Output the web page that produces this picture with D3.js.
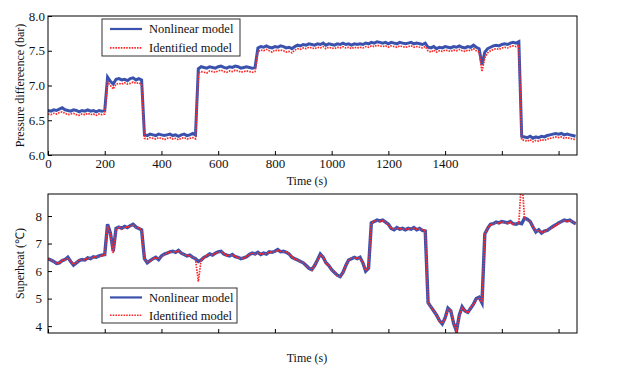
<!DOCTYPE html>
<html>
<head>
<meta charset="utf-8">
<script src="https://cdn.jsdelivr.net/npm/d3@7/dist/d3.min.js"></script>
<style>
body{margin:0;background:#fff;}
svg{display:block;font-family:"Liberation Serif","Times New Roman",serif;}
</style>
</head>
<body>
<svg id="chart" width="619" height="375"></svg>
<script>
// ---- data (sampled every 10 s) ----
const time = d3.range(0, 1870, 10);
const xTicks = [0,200,400,600,800,1000,1200,1400,1600,1800];
const xTickLabels = ["0","200","400","600","800","1000","1200","1400","",""];
const pTicks = [6.0,6.5,7.0,7.5,8.0];
const pTickLabels = ["6.0","6.5","7.0","7.5","8.0"];
const sTicks = [4,5,6,7,8];
const sTickLabels = ["4","5","6","7","8"];
const seriesNames = ["Nonlinear model","Identified model"];

const pressureNonlinear = [
6.64,6.63,6.65,6.64,6.66,6.68,6.65,6.64,6.63,6.65,6.64,6.62,6.64,6.63,6.65,6.63,6.64,6.62,6.64,6.63,6.64,
7.12,7.06,7.02,7.09,7.10,7.08,7.09,7.07,7.10,7.11,7.08,7.10,7.08,
6.29,6.28,6.30,6.29,6.28,6.30,6.29,6.28,6.29,6.30,6.28,6.29,6.27,6.29,6.30,6.28,6.29,6.31,6.29,
7.24,7.27,7.26,7.25,7.27,7.26,7.25,7.27,7.28,7.26,7.25,7.27,7.26,7.28,7.27,7.25,7.26,7.27,7.26,7.25,7.26,
7.54,7.56,7.55,7.57,7.55,7.54,7.56,7.55,7.57,7.56,7.54,7.55,7.53,7.56,7.58,7.57,
7.59,7.58,7.60,7.59,7.58,7.60,7.59,7.61,7.58,7.60,7.59,7.58,7.60,7.59,7.61,7.59,7.60,7.58,7.60,7.59,
7.60,7.59,7.61,7.60,7.62,7.61,7.63,7.62,7.61,7.62,7.60,7.62,7.61,7.60,7.62,7.61,7.60,7.61,7.62,7.60,7.61,7.60,7.59,7.61,
7.55,7.54,7.56,7.53,7.55,7.54,7.56,7.55,7.54,7.56,7.55,7.57,7.55,7.54,7.56,7.55,
7.58,7.55,7.53,7.30,7.48,7.53,7.55,7.57,7.58,7.57,7.59,7.60,7.59,7.61,7.62,7.61,7.63,
6.27,6.26,6.25,6.27,6.24,6.26,6.25,6.27,6.26,6.28,6.29,6.30,6.31,6.30,6.31,6.29,6.30,6.29,6.28,6.27
];
const pressureIdentified = [
6.59,6.58,6.60,6.59,6.61,6.62,6.60,6.58,6.59,6.60,6.58,6.57,6.59,6.58,6.60,6.58,6.59,6.57,6.59,6.58,6.59,
7.05,7.00,6.95,7.02,7.03,7.02,7.04,7.02,7.03,7.05,7.03,7.04,7.02,
6.24,6.23,6.25,6.24,6.23,6.25,6.24,6.22,6.24,6.25,6.23,6.24,6.22,6.24,6.25,6.23,6.24,6.25,6.23,
7.18,7.20,7.19,7.18,7.21,7.20,7.19,7.21,7.22,7.20,7.19,7.21,7.20,7.22,7.21,7.19,7.20,7.21,7.20,7.19,7.20,
7.49,7.51,7.50,7.52,7.50,7.48,7.51,7.50,7.51,7.50,7.48,7.49,7.47,7.51,7.53,7.52,
7.54,7.53,7.55,7.54,7.53,7.55,7.54,7.56,7.53,7.55,7.54,7.53,7.55,7.54,7.56,7.54,7.55,7.53,7.55,7.54,
7.55,7.54,7.56,7.55,7.57,7.56,7.58,7.57,7.56,7.57,7.55,7.57,7.56,7.55,7.57,7.56,7.55,7.56,7.57,7.55,7.56,7.55,7.54,7.56,
7.50,7.48,7.51,7.48,7.50,7.49,7.51,7.50,7.49,7.51,7.50,7.52,7.50,7.49,7.51,7.50,
7.53,7.50,7.48,7.20,7.40,7.47,7.50,7.52,7.53,7.52,7.54,7.55,7.54,7.56,7.57,7.56,7.58,
6.22,6.21,6.20,6.22,6.19,6.21,6.20,6.22,6.21,6.23,6.24,6.25,6.26,6.25,6.26,6.24,6.25,6.24,6.23,6.22
];
const superheatNonlinear = [
6.45,6.40,6.35,6.28,6.30,6.38,6.42,6.50,6.35,6.22,6.30,6.38,6.42,6.40,6.48,6.45,6.52,6.50,6.55,6.58,6.60,
7.70,7.38,6.72,7.55,7.60,7.55,7.62,7.58,7.65,7.70,7.60,7.55,7.50,
6.45,6.30,6.38,6.45,6.50,6.42,6.55,6.62,6.65,6.70,6.72,6.68,6.75,6.65,6.60,6.55,6.58,6.50,6.45,6.35,6.40,6.50,6.55,6.62,6.58,6.65,6.70,
6.72,6.62,6.58,6.55,6.60,6.52,6.50,6.45,6.48,6.52,6.60,6.65,6.62,6.68,6.60,6.65,6.62,6.70,6.68,6.72,6.78,6.70,6.72,6.68,6.62,6.50,6.45,6.40,6.35,
6.30,6.20,6.10,6.05,6.20,6.40,6.62,6.50,6.30,6.20,6.05,5.95,5.85,5.80,5.95,6.20,6.40,6.45,6.50,6.45,6.50,6.30,6.00,6.10,
7.75,7.80,7.85,7.82,7.85,7.78,7.70,7.55,7.50,7.58,7.52,7.55,7.50,7.55,7.52,7.58,7.50,7.55,7.48,7.45,
4.85,4.70,4.55,4.40,4.20,4.08,4.30,4.65,4.55,4.10,3.82,4.40,4.70,4.55,4.50,4.65,4.80,5.00,5.05,4.85,
7.35,7.55,7.70,7.72,7.78,7.75,7.80,7.78,7.75,7.80,7.72,7.70,7.75,7.72,7.92,7.88,7.80,7.60,7.42,7.50,7.38,7.45,7.48,7.55,7.62,7.68,7.75,7.80,7.85,7.82,7.85,7.78,7.72
];
const superheatIdentified = [
6.43,6.42,6.33,6.30,6.28,6.40,6.40,6.48,6.37,6.25,6.28,6.40,6.40,6.42,6.46,6.47,6.50,6.52,6.53,6.56,6.58,
7.65,7.35,6.65,7.50,7.62,7.52,7.60,7.60,7.62,7.68,7.58,7.57,7.48,
6.42,6.33,6.36,6.47,6.48,6.45,6.52,6.60,6.67,6.68,6.70,6.70,6.72,6.67,6.58,6.57,6.55,6.52,6.43,5.62,6.42,6.48,6.57,6.60,6.60,6.63,6.68,
6.70,6.64,6.56,6.57,6.58,6.54,6.48,6.47,6.46,6.54,6.58,6.67,6.60,6.66,6.62,6.63,6.64,6.68,6.70,6.70,6.76,6.72,6.70,6.70,6.60,6.52,6.43,6.42,6.33,
6.32,6.18,6.12,6.03,6.22,6.38,6.60,6.52,6.28,6.22,6.03,5.97,5.83,5.82,5.93,6.22,6.38,6.47,6.48,6.47,6.48,6.32,6.02,6.12,
7.72,7.82,7.83,7.80,7.83,7.80,7.68,7.57,7.52,7.56,7.54,7.53,7.52,7.53,7.54,7.56,7.52,7.53,7.50,7.47,
4.82,4.72,4.53,4.42,4.18,4.10,4.28,4.62,4.57,4.12,3.85,4.38,4.67,4.57,4.48,4.67,4.78,4.97,5.03,4.87,
7.33,7.57,7.68,7.70,7.76,7.73,7.78,7.76,7.73,7.78,7.70,7.72,7.73,9.50,7.90,7.86,7.78,7.62,7.44,7.48,7.40,7.43,7.50,7.53,7.60,7.66,7.72,7.78,7.83,7.80,7.83,7.80,7.70
];

// ---- styles ----
const BLUE = "#3a52ad";
const RED = "#ff2a2a";
const FONT = 12;
const TICK_FONT = 13;

const svg = d3.select("#chart");
const left = 48, right = 577;
const x = d3.scaleLinear().domain([0, 1865]).range([left, right]);

function panel(id, top, bottom, yDomain, yTicks, yLabels, tickLabelOffset, xLabels, s1, s2, yTitle, legendBox, timeY, blueW) {
  const y = d3.scaleLinear().domain(yDomain).range([bottom, top]);
  const g = svg.append("g");
  g.append("clipPath").attr("id", id).append("rect")
    .attr("x", left).attr("y", top).attr("width", right - left).attr("height", bottom - top);

  const line = d3.line().x((d, i) => x(time[i])).y(d => y(d));
  const plot = g.append("g").attr("clip-path", `url(#${id})`);
  plot.append("path").datum(s1).attr("d", line)
    .attr("fill", "none").attr("stroke", BLUE).attr("stroke-width", blueW).attr("stroke-linejoin", "miter");
  plot.append("path").datum(s2).attr("d", line)
    .attr("fill", "none").attr("stroke", RED).attr("stroke-width", 1.7).attr("stroke-dasharray", "1.6,1.1");

  // axes with inward ticks
  const xa = d3.axisBottom(x).tickValues(xTicks).tickSize(-4).tickPadding(6)
    .tickFormat((d, i) => xLabels ? xLabels[i] : "");
  const gx = g.append("g").attr("transform", `translate(0,${bottom})`).call(xa);
  const ya = d3.axisLeft(y).tickValues(yTicks).tickSize(-4).tickPadding(tickLabelOffset)
    .tickFormat((d, i) => yLabels[i]);
  const gy = g.append("g").attr("transform", `translate(${left},0)`).call(ya);
  [gx, gy].forEach(a => {
    a.select(".domain").remove();
    a.selectAll("line").attr("stroke", "#000");
    a.selectAll("text").attr("font-family", "Liberation Serif").attr("font-size", TICK_FONT).attr("fill", "#111");
  });
  gx.selectAll("text").attr("dy", "0.55em");

  g.append("rect").attr("x", left).attr("y", top).attr("width", right - left).attr("height", bottom - top)
    .attr("fill", "none").attr("stroke", "#000").attr("stroke-width", 1);

  g.append("text").attr("transform", `translate(20,${(top + bottom) / 2}) rotate(-90)`)
    .attr("text-anchor", "middle").attr("dy", "0.35em").attr("font-size", FONT).attr("fill", "#111").text(yTitle);
  g.append("text").attr("x", 307).attr("y", timeY).attr("text-anchor", "middle")
    .attr("font-size", FONT).attr("fill", "#111").text("Time (s)");

  // legend
  const [lx, ly, lw, lh] = legendBox;
  const lg = g.append("g");
  lg.append("rect").attr("x", lx).attr("y", ly).attr("width", lw).attr("height", lh)
    .attr("fill", "#fff").attr("stroke", "#333").attr("stroke-width", 1);
  const rowY = [ly + lh * 0.27, ly + lh * 0.78];
  lg.append("line").attr("x1", lx + 8).attr("x2", lx + 40).attr("y1", rowY[0]).attr("y2", rowY[0])
    .attr("stroke", BLUE).attr("stroke-width", 2.2);
  lg.append("line").attr("x1", lx + 8).attr("x2", lx + 40).attr("y1", rowY[1]).attr("y2", rowY[1])
    .attr("stroke", RED).attr("stroke-width", 1.6).attr("stroke-dasharray", "1.6,1.1");
  seriesNames.forEach((n, i) => {
    lg.append("text").attr("x", lx + 47).attr("y", rowY[i]).attr("dy", "0.35em")
      .attr("font-size", 12.5).attr("fill", "#111").text(n);
  });
}

panel("clipTop", 16, 155, [6, 8], pTicks, pTickLabels, 3, xTickLabels,
  pressureNonlinear, pressureIdentified, "Pressure differeence (bar)", [102, 19, 138, 37], 185, 3.0);
panel("clipBot", 194, 333, [3.75, 8.8], sTicks, sTickLabels, 6, null,
  superheatNonlinear, superheatIdentified, "Superheat (\u2103)", [102, 288, 135, 35], 362, 3.4);
</script>
</body>
</html>
